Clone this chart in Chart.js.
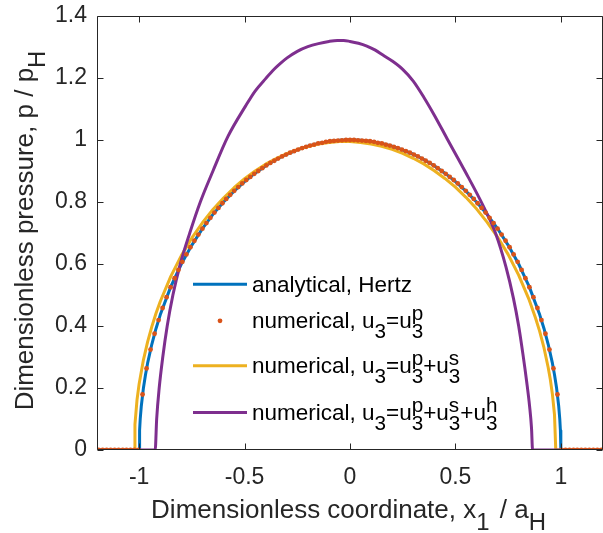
<!DOCTYPE html>
<html>
<head>
<meta charset="utf-8">
<script src="https://cdn.jsdelivr.net/npm/chart.js@4"></script>
<style>
  html, body { margin: 0; padding: 0; background: #fff; }
  #wrap { width: 603px; height: 533px; }
</style>
</head>
<body>
<div id="wrap"><canvas id="myChart" width="603" height="533"></canvas></div>
<script>
// analytical Hertz solution
const hertzX = [-1.2, -1.0, -0.998, -0.995, -0.99, -0.98, -0.97, -0.96, -0.94, -0.92, -0.9, -0.85, -0.8, -0.75, -0.7, -0.65, -0.6, -0.55, -0.5, -0.45, -0.4, -0.35, -0.3, -0.25, -0.2, -0.15, -0.1, -0.05,
  0, 0.05, 0.1, 0.15, 0.2, 0.25, 0.3, 0.35, 0.4, 0.45, 0.5, 0.55, 0.6, 0.65, 0.7, 0.75, 0.8, 0.85, 0.9, 0.92, 0.94, 0.96, 0.97, 0.98, 0.99, 0.995, 0.998, 1.0, 1.2];
const hertzY = [0, 0, 0.063, 0.100, 0.141, 0.199, 0.243, 0.280, 0.341, 0.392, 0.436, 0.527, 0.600, 0.661, 0.714, 0.760, 0.800, 0.835, 0.866, 0.893, 0.917, 0.937, 0.954, 0.968, 0.980, 0.989, 0.995, 0.999,
  1.0, 0.999, 0.995, 0.989, 0.980, 0.968, 0.954, 0.937, 0.917, 0.893, 0.866, 0.835, 0.800, 0.760, 0.714, 0.661, 0.600, 0.527, 0.436, 0.392, 0.341, 0.280, 0.243, 0.199, 0.141, 0.100, 0.063, 0, 0];

// numerical, u3 = u3p (markers)
const dotsX = [-1.192, -1.173, -1.154, -1.135, -1.116, -1.097, -1.078, -1.060, -1.041, -1.022, -1.003,
  -0.984, -0.965, -0.946, -0.927, -0.908, -0.889, -0.870, -0.851, -0.832, -0.814, -0.795, -0.776, -0.757, -0.738, -0.719, -0.700, -0.681, -0.662, -0.643, -0.624, -0.605, -0.587, -0.568, -0.549, -0.530, -0.511, -0.492, -0.473, -0.454, -0.435, -0.416, -0.397, -0.378, -0.359, -0.341, -0.322, -0.303, -0.284, -0.265, -0.246, -0.227, -0.208, -0.189, -0.170, -0.151, -0.132, -0.114, -0.095, -0.076, -0.057, -0.038, -0.019,
  0,
  0.019, 0.038, 0.057, 0.076, 0.095, 0.114, 0.132, 0.151, 0.170, 0.189, 0.208, 0.227, 0.246, 0.265, 0.284, 0.303, 0.322, 0.341, 0.359, 0.378, 0.397, 0.416, 0.435, 0.454, 0.473, 0.492, 0.511, 0.530, 0.549, 0.568, 0.587, 0.605, 0.624, 0.643, 0.662, 0.681, 0.700, 0.719, 0.738, 0.757, 0.776, 0.795, 0.814, 0.832, 0.851, 0.870, 0.889, 0.908, 0.927, 0.946, 0.965, 0.984,
  1.003, 1.022, 1.041, 1.060, 1.078, 1.097, 1.116, 1.135, 1.154, 1.173, 1.192];
const dotsY = [0, 0, 0, 0, 0, 0, 0, 0, 0, 0, 0,
  0.179, 0.263, 0.324, 0.375, 0.419, 0.458, 0.493, 0.525, 0.554, 0.581, 0.607, 0.631, 0.654, 0.675, 0.695, 0.714, 0.732, 0.749, 0.766, 0.781, 0.796, 0.810, 0.823, 0.836, 0.848, 0.860, 0.871, 0.881, 0.891, 0.900, 0.909, 0.918, 0.926, 0.933, 0.940, 0.947, 0.953, 0.959, 0.964, 0.969, 0.974, 0.978, 0.982, 0.985, 0.989, 0.991, 0.994, 0.996, 0.997, 0.998, 0.999, 1.0,
  1.0,
  1.0, 0.999, 0.998, 0.997, 0.996, 0.994, 0.991, 0.989, 0.985, 0.982, 0.978, 0.974, 0.969, 0.964, 0.959, 0.953, 0.947, 0.940, 0.933, 0.926, 0.918, 0.909, 0.900, 0.891, 0.881, 0.871, 0.860, 0.848, 0.836, 0.823, 0.810, 0.796, 0.781, 0.766, 0.749, 0.732, 0.714, 0.695, 0.675, 0.654, 0.631, 0.607, 0.581, 0.554, 0.525, 0.493, 0.458, 0.419, 0.375, 0.324, 0.263, 0.179,
  0, 0, 0, 0, 0, 0, 0, 0, 0, 0, 0];

// numerical, u3 = u3p + u3s
const yellowX = [-1.2, -1.023, -1.02, -1.01, -1.0, -0.98, -0.96, -0.94, -0.92, -0.9, -0.85, -0.8, -0.75, -0.7, -0.65, -0.6, -0.55, -0.5, -0.45, -0.4, -0.35, -0.3, -0.25, -0.2, -0.15, -0.1, -0.05,
  0, 0.05, 0.1, 0.15, 0.2, 0.25, 0.3, 0.35, 0.4, 0.45, 0.5, 0.55, 0.6, 0.65, 0.7, 0.75, 0.8, 0.85, 0.88, 0.9, 0.92, 0.94, 0.95, 0.96, 0.97, 0.976, 1.2];
const yellowY = [0, 0, 0.083, 0.163, 0.214, 0.290, 0.349, 0.398, 0.441, 0.479, 0.560, 0.627, 0.684, 0.733, 0.776, 0.813, 0.846, 0.875, 0.900, 0.922, 0.940, 0.956, 0.969, 0.979, 0.987, 0.992, 0.995,
  0.995, 0.992, 0.987, 0.980, 0.970, 0.957, 0.941, 0.923, 0.901, 0.876, 0.848, 0.815, 0.778, 0.735, 0.687, 0.631, 0.564, 0.484, 0.426, 0.382, 0.330, 0.266, 0.228, 0.180, 0.113, 0, 0];

// numerical, u3 = u3p + u3s + u3h
const purpleX = [-1.2, -0.924, -0.917, -0.905, -0.888, -0.867, -0.84, -0.805, -0.76, -0.71, -0.65, -0.58, -0.495, -0.45, -0.40, -0.36, -0.33, -0.30, -0.25, -0.20, -0.15, -0.10, -0.06, -0.03,
  0, 0.04, 0.08, 0.12, 0.156, 0.2, 0.25, 0.3, 0.35, 0.4, 0.46, 0.545, 0.63, 0.69, 0.74, 0.775, 0.8, 0.82, 0.838, 0.852, 0.861, 0.866, 1.2];
const purpleY = [0, 0, 0.1, 0.2, 0.3, 0.4, 0.5, 0.6, 0.7, 0.8, 0.9, 1.01, 1.11, 1.158, 1.198, 1.228, 1.247, 1.264, 1.286, 1.301, 1.311, 1.318, 1.321, 1.321,
  1.318, 1.312, 1.303, 1.29, 1.274, 1.255, 1.228, 1.19, 1.138, 1.08, 1.005, 0.9, 0.79, 0.7, 0.59, 0.49, 0.40, 0.31, 0.22, 0.14, 0.07, 0, 0];

const xTicks = [-1, -0.5, 0, 0.5, 1];
const yTicks = [0, 0.2, 0.4, 0.6, 0.8, 1, 1.2, 1.4];

// legend text, plain strings plus {sub, sup} pieces
const legendLabels = [
  ['analytical, Hertz'],
  ['numerical, u', {sub: '3'}, '=u', {sub: '3', sup: 'p'}],
  ['numerical, u', {sub: '3'}, '=u', {sub: '3', sup: 'p'}, '+u', {sub: '3', sup: 's'}],
  ['numerical, u', {sub: '3'}, '=u', {sub: '3', sup: 'p'}, '+u', {sub: '3', sup: 's'}, '+u', {sub: '3', sup: 'h'}],
];
const xTitle = ['Dimensionless coordinate, x', {sub: '1'}, ' / a', {sub: 'H'}];
const yTitle = ['Dimensionless pressure, p / p', {sub: 'H'}];

const blue = '#0072BD', orange = '#D95319', yellow = '#EDB120', purple = '#7E2F8E';
const ink = '#262626';
const fam = '"Liberation Sans", Arial, sans-serif';

const zip = (xs, ys) => xs.map((x, i) => ({x: x, y: ys[i]}));

// writes text with stacked sub/superscripts, returns width
function rich(ctx, parts, x, y, size, draw, gap) {
  let cx = x;
  for (const p of parts) {
    if (typeof p === 'string') {
      ctx.font = size + 'px ' + fam;
      if (draw) ctx.fillText(p, cx, y);
      cx += ctx.measureText(p).width;
    } else {
      ctx.font = (size * 0.92) + 'px ' + fam;
      let w = 0;
      if (p.sub) {
        if (draw) ctx.fillText(p.sub, cx, y + size * 0.45);
        w = Math.max(w, ctx.measureText(p.sub).width);
      }
      if (p.sup) {
        if (draw) ctx.fillText(p.sup, cx, y - size * 0.36);
        w = Math.max(w, ctx.measureText(p.sup).width);
      }
      cx += w + (gap || 0);
    }
  }
  return cx - x;
}

const frame = {
  id: 'frame',
  afterDraw(chart) {
    const {ctx, chartArea: a, scales} = chart;
    const xs = scales.x, ys = scales.y;
    ctx.save();
    ctx.strokeStyle = ink;
    ctx.lineWidth = 1;
    ctx.beginPath();
    const L = Math.round(a.left) + 0.5, R = Math.round(a.right) - 0.5;
    const T = Math.round(a.top) + 0.5, B = Math.round(a.bottom) - 0.5;
    ctx.moveTo(L, T); ctx.lineTo(R, T); ctx.lineTo(R, B); ctx.lineTo(L, B); ctx.closePath();
    xTicks.forEach(v => {
      const px = Math.round(xs.getPixelForValue(v)) + 0.5;
      ctx.moveTo(px, B); ctx.lineTo(px, B - 6);
      ctx.moveTo(px, T); ctx.lineTo(px, T + 6);
    });
    yTicks.forEach(v => {
      const py = Math.round(ys.getPixelForValue(v)) + 0.5;
      ctx.moveTo(L, py); ctx.lineTo(L + 6, py);
      ctx.moveTo(R, py); ctx.lineTo(R - 6, py);
    });
    ctx.stroke();

    ctx.fillStyle = ink;
    ctx.textBaseline = 'alphabetic';
    ctx.textAlign = 'left';
    // x title
    let w = rich(ctx, xTitle, 0, 0, 26, false, 3);
    rich(ctx, xTitle, (a.left + a.right) / 2 - w / 2, 518, 26, true, 3);
    // y title
    ctx.save();
    ctx.translate(33, (a.top + a.bottom) / 2 - 4);
    ctx.rotate(-Math.PI / 2);
    w = rich(ctx, yTitle, 0, 0, 26, false, 3);
    rich(ctx, yTitle, -w / 2, 0, 26, true, 3);
    ctx.restore();

    // legend
    const base = [291.7, 328.3, 373.3, 420];
    chart.data.datasets.forEach((ds, i) => {
      const yb = base[i], ym = yb - 7.5;
      if (ds.showLine === false) {
        ctx.fillStyle = ds.backgroundColor;
        ctx.beginPath();
        ctx.arc(220, ym, 2.4, 0, Math.PI * 2);
        ctx.fill();
      } else {
        ctx.strokeStyle = ds.borderColor;
        ctx.lineWidth = ds.borderWidth;
        ctx.beginPath();
        ctx.moveTo(193, ym); ctx.lineTo(247, ym);
        ctx.stroke();
      }
      ctx.fillStyle = '#000';
      rich(ctx, legendLabels[i], 252, yb, 22.5, true, 0);
    });
    ctx.restore();
  }
};

const ctx = document.getElementById('myChart');

new Chart(ctx, {
  type: 'line',
  data: {
    datasets: [
      {label: 'analytical, Hertz', data: zip(hertzX, hertzY), borderColor: blue, borderWidth: 3, pointRadius: 0, order: 4},
      {label: 'numerical, u3=u3p', data: zip(dotsX, dotsY), showLine: false, backgroundColor: orange, borderWidth: 0, pointRadius: 2.4, order: 1},
      {label: 'numerical, u3=u3p+u3s', data: zip(yellowX, yellowY), borderColor: yellow, borderWidth: 3, pointRadius: 0, order: 3},
      {label: 'numerical, u3=u3p+u3s+u3h', data: zip(purpleX, purpleY), borderColor: purple, borderWidth: 3, pointRadius: 0, order: 2, cubicInterpolationMode: 'monotone'},
    ]
  },
  options: {
    responsive: false,
    animation: false,
    events: [],
    layout: {autoPadding: false, padding: {top: 16, right: -1, left: 0, bottom: 0}},
    elements: {line: {tension: 0, borderJoinStyle: 'round'}},
    plugins: {legend: {display: false}, tooltip: {enabled: false}},
    scales: {
      x: {
        type: 'linear', min: -1.2, max: 1.2,
        afterBuildTicks: s => { s.ticks = xTicks.map(v => ({value: v})); },
        afterFit: s => { s.height = 83; s.paddingLeft = 0; s.paddingRight = 0; },
        grid: {display: false, drawTicks: true, tickLength: 14},
        border: {display: false},
        ticks: {color: ink, font: {family: fam, size: 23}, padding: 0, maxRotation: 0, callback: v => String(v)}
      },
      y: {
        min: 0, max: 1.4,
        afterBuildTicks: s => { s.ticks = yTicks.map(v => ({value: v})); },
        afterFit: s => { s.width = 97; s.paddingTop = 0; s.paddingBottom = 0; },
        grid: {display: false, drawTicks: true, tickLength: 10},
        border: {display: false},
        ticks: {color: ink, font: {family: fam, size: 23}, padding: 0, callback: v => String(v)}
      }
    }
  },
  plugins: [frame]
});
</script>
</body>
</html>
